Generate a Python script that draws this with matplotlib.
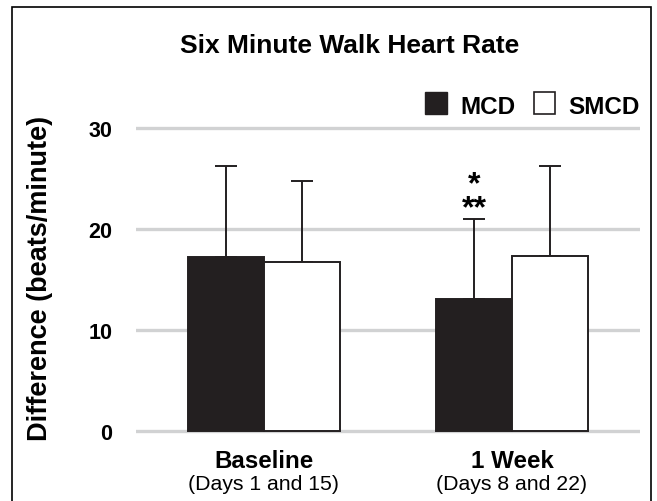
import numpy as np
import matplotlib
matplotlib.use('Agg')
import matplotlib.pyplot as plt
from matplotlib.patches import Rectangle

plt.rcParams['font.family'] = ['Liberation Sans', 'DejaVu Sans']

groups = ['Baseline', '1 Week']
subtitles = ['(Days 1 and 15)', '(Days 8 and 22)']
mcd = [17.2, 13.1]
mcd_err = [9.0, 7.9]
smcd = [16.7, 17.3]
smcd_err = [8.1, 8.9]

dark = '#231f20'
grid_c = '#d1d2d3'

fig = plt.figure(figsize=(6.57, 5.02), dpi=100)
ax = fig.add_axes([0.207, 0.1193, 0.767, 0.664])

x = np.arange(len(groups))
w = 0.306
ax.bar(x - w / 2, mcd, w, color=dark, edgecolor=dark, linewidth=1.4, zorder=3)
ax.bar(x + w / 2, smcd, w, color='white', edgecolor=dark, linewidth=1.4, zorder=3)

# upper-only error bars
ax.errorbar(x - w / 2, mcd, yerr=[np.zeros(2), mcd_err], fmt='none',
            ecolor=dark, elinewidth=1.4, capsize=8, capthick=1.4, zorder=2)
ax.errorbar(x + w / 2, smcd, yerr=[np.zeros(2), smcd_err], fmt='none',
            ecolor=dark, elinewidth=1.4, capsize=8, capthick=1.4, zorder=2)

ax.set_xlim(-0.516, 1.516)
ax.set_ylim(-1, 32)
ax.set_yticks([0, 10, 20, 30])
ax.set_yticklabels(['0', '10', '20', '30'], fontsize=15.5, fontweight='bold')
for yv in [0, 10, 20, 30]:
    ax.axhline(yv, color=grid_c, linewidth=2.4, zorder=1)
ax.tick_params(axis='y', length=0, pad=17)
ax.set_xticks([])
for s in ax.spines.values():
    s.set_visible(False)

fig.text(40 / 657, 1 - 278 / 502, 'Difference (beats/minute)', rotation=90,
         ha='center', va='center', fontsize=19.5, fontweight='bold')

for i in range(len(groups)):
    ax.text(x[i], -3.56, groups[i], ha='center', va='baseline', fontsize=17.4,
            fontweight='bold')
    ax.text(x[i], -5.74, subtitles[i], ha='center', va='baseline', fontsize=15.3)

# significance stars above 1 Week MCD
ax.text(x[1] - w / 2, 21.3, '*\n**', ha='center', va='baseline', fontsize=23,
        fontweight='bold', linespacing=0.71, multialignment='center')

fig.text(350 / 657, 1 - 53 / 502, 'Six Minute Walk Heart Rate', ha='center', va='baseline',
         fontsize=19, fontweight='bold')

# legend
fig.patches.append(Rectangle((425 / 657, 1 - 115 / 502), 22 / 657, 22 / 502,
                             transform=fig.transFigure, facecolor=dark, edgecolor=dark, linewidth=1))
fig.text(460 / 657, 1 - 114 / 502, 'MCD', ha='left', va='baseline', fontsize=17.5, fontweight='bold')
fig.patches.append(Rectangle((534 / 657, 1 - 115 / 502), 21 / 657, 22 / 502,
                             transform=fig.transFigure, facecolor='white', edgecolor=dark, linewidth=1.2))
fig.text(568 / 657, 1 - 114 / 502, 'SMCD', ha='left', va='baseline', fontsize=17.5, fontweight='bold')

# outer frame
fig.patches.append(Rectangle((12 / 657, -0.05), 639 / 657, 1.05 - 8 / 502,
                             transform=fig.transFigure, facecolor='none', edgecolor='black', linewidth=1.2))

fig.savefig('out.png', dpi=100)
